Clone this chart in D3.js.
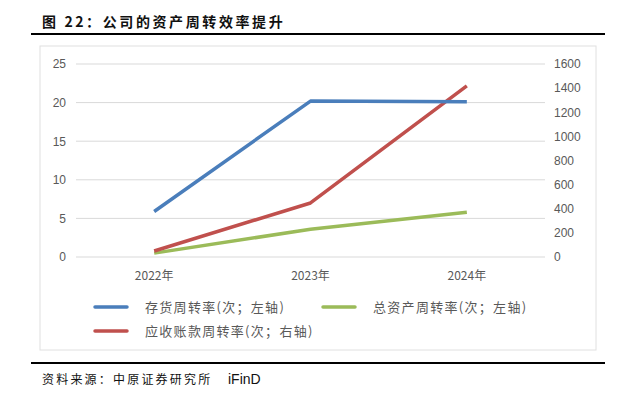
<!DOCTYPE html>
<head>
  <meta charset="utf-8" />
  <title>公司的资产周转效率提升</title>
  <style>
    body { margin: 0; background: #fff; }
    svg { display: block; }
  </style>
</head>
<body>
  <script src="https://cdn.jsdelivr.net/npm/d3@7"></script>
  <script>
    // data
    var years = ["2022年", "2023年", "2024年"];
    var inventory = [5.9, 20.2, 20.1];      // 存货周转率, left axis
    var totalAssets = [0.5, 3.6, 5.8];      // 总资产周转率, left axis
    var receivables = [50, 448, 1418];      // 应收账款周转率, right axis
    var leftTicks = [0, 5, 10, 15, 20, 25];
    var rightTicks = [0, 200, 400, 600, 800, 1000, 1200, 1400, 1600];

    var width = 617, height = 397;
    var svg = d3.select("body").append("svg")
      .attr("width", width).attr("height", height);

    var cjk = "'Noto Sans CJK SC', 'Noto Sans', sans-serif";
    var num = "'Liberation Sans', Arial, sans-serif";

    // title + rules
    svg.append("text")
      .attr("x", 42).attr("y", 27)
      .attr("font-family", cjk).attr("font-size", 14).attr("font-weight", "bold")
      .attr("letter-spacing", 2.6)
      .attr("fill", "#111")
      .text("图 22：公司的资产周转效率提升");
    svg.append("line").attr("x1", 31).attr("x2", 605).attr("y1", 34).attr("y2", 34)
      .attr("stroke", "#000").attr("stroke-width", 2.2);
    svg.append("line").attr("x1", 31).attr("x2", 605).attr("y1", 363).attr("y2", 363)
      .attr("stroke", "#000").attr("stroke-width", 2.2);

    // chart frame
    svg.append("rect").attr("x", 40).attr("y", 46).attr("width", 556).attr("height", 304)
      .attr("fill", "none").attr("stroke", "#e0e0e0").attr("stroke-width", 1);

    var x = d3.scaleBand().domain(years).range([76, 545]);
    var yL = d3.scaleLinear().domain([0, 25]).range([257, 64]);
    var yR = d3.scaleLinear().domain([0, 1600]).range([257, 64]);

    // gridlines from left axis
    svg.append("g").selectAll("line").data(leftTicks).enter().append("line")
      .attr("x1", 76).attr("x2", 545)
      .attr("y1", function (d) { return yL(d); })
      .attr("y2", function (d) { return yL(d); })
      .attr("stroke", "#d9d9d9").attr("stroke-width", 1);

    var axisL = d3.axisLeft(yL).tickValues(leftTicks).tickSize(0).tickPadding(0);
    var gL = svg.append("g").attr("transform", "translate(66,0)").call(axisL);
    var axisR = d3.axisRight(yR).tickValues(rightTicks).tickFormat(d3.format("d"))
      .tickSize(0).tickPadding(0);
    var gR = svg.append("g").attr("transform", "translate(554,0)").call(axisR);
    var axisX = d3.axisBottom(x).tickSize(0).tickPadding(0);
    var gX = svg.append("g").attr("transform", "translate(0,270)").call(axisX);
    [gL, gR, gX].forEach(function (g) {
      g.select(".domain").remove();
      g.selectAll("text").attr("fill", "#595959").attr("font-size", 12)
        .attr("font-family", num);
    });
    gX.selectAll("text").attr("font-family", cjk).attr("dy", "0.8em");

    var lineL = d3.line()
      .x(function (d, i) { return x(years[i]) + x.bandwidth() / 2; })
      .y(function (d) { return yL(d); });
    var lineR = d3.line()
      .x(function (d, i) { return x(years[i]) + x.bandwidth() / 2; })
      .y(function (d) { return yR(d); });

    var series = [
      { name: "存货周转率(次；左轴)", values: inventory, line: lineL, color: "#4a7ebb" },
      { name: "总资产周转率(次；左轴)", values: totalAssets, line: lineL, color: "#9bbb59" },
      { name: "应收账款周转率(次；右轴)", values: receivables, line: lineR, color: "#c0504d" }
    ];

    svg.append("g").selectAll("path").data([series[1], series[2], series[0]]).enter()
      .append("path")
      .attr("d", function (s) { return s.line(s.values); })
      .attr("fill", "none")
      .attr("stroke", function (s) { return s.color; })
      .attr("stroke-width", 3.5)
      .attr("stroke-linejoin", "round");

    // legend
    var legendPos = [[94, 307], [322, 307], [94, 331]];
    var lg = svg.append("g").selectAll("g").data(series).enter().append("g")
      .attr("transform", function (d, i) {
        return "translate(" + legendPos[i][0] + "," + legendPos[i][1] + ")";
      });
    lg.append("line").attr("x1", 1).attr("x2", 33).attr("y1", 0).attr("y2", 0)
      .attr("stroke", function (d) { return d.color; })
      .attr("stroke-width", 3.5).attr("stroke-linecap", "round");
    lg.append("text").attr("x", 51).attr("y", 0).attr("dy", "0.35em")
      .attr("font-family", cjk).attr("font-size", 13).attr("letter-spacing", 1.3)
      .attr("fill", "#595959")
      .text(function (d) { return d.name; });

    // source
    svg.append("text").attr("x", 42).attr("y", 384)
      .attr("font-family", cjk).attr("font-size", 12).attr("letter-spacing", 2.2)
      .attr("fill", "#111")
      .text("资料来源：中原证券研究所");
    svg.append("text").attr("x", 228).attr("y", 384)
      .attr("font-family", num).attr("font-size", 14)
      .attr("fill", "#111")
      .text("iFinD");
  </script>
</body>
